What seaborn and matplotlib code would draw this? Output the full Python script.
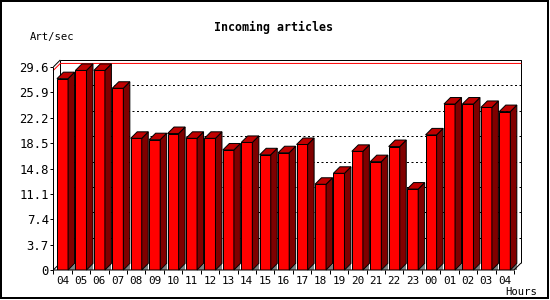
import matplotlib
matplotlib.use("Agg")
import matplotlib.pyplot as plt
import seaborn as sns
import pandas as pd
import numpy as np
from matplotlib.patches import Polygon, Rectangle

# ---- data ----
hours = ["04", "05", "06", "07", "08", "09", "10", "11", "12", "13", "14", "15", "16",
         "17", "18", "19", "20", "21", "22", "23", "00", "01", "02", "03", "04"]
values = [27.9, 29.1, 29.1, 26.5, 19.2, 19.0, 19.9, 19.2, 19.2, 17.5, 18.6, 16.8, 17.1,
          18.3, 12.5, 14.1, 17.3, 15.8, 18.0, 11.8, 19.7, 24.2, 24.2, 23.7, 23.1]
ytick_vals = [0, 3.7, 7.4, 11.1, 14.8, 18.5, 22.2, 25.9, 29.6]
ytick_labels = ["0", "3.7", "7.4", "11.1", "14.8", "18.5", "22.2", "25.9", "29.6"]
title = "Incoming articles"
ylabel = "Art/sec"
xlabel = "Hours"

sns.set_theme(style="white")
plt.rcParams["font.family"] = ["DejaVu Sans Mono", "DejaVu Sans"]

W, H = 550, 300
fig = plt.figure(figsize=(W / 100, H / 100), dpi=100)
fig.patch.set_facecolor("white")

# front plotting area in pixels
fx0, fx1 = 53.3, 514.0
fy0, fy1 = 270.0, 67.0
ax = fig.add_axes([fx0 / W, (H - fy0) / H, (fx1 - fx0) / W, (fy0 - fy1) / H])
ax.set_facecolor("none")

n = len(values)
df = pd.DataFrame({"idx": list(range(n)), "val": values})
sns.barplot(data=df, x="idx", y="val", color="#ff0000", saturation=1, width=0.6,
            edgecolor="black", linewidth=0.72, ax=ax, zorder=3)

xmin, xmax = -0.5, n - 0.5
ymin, ymax = 0, 29.6
ax.set_xlim(xmin, xmax)
ax.set_ylim(ymin, ymax)

ppx = (fx1 - fx0) / (xmax - xmin)
ppy = (fy0 - fy1) / (ymax - ymin)
pdx, pdy = 7 / ppx, 7 / ppy          # back-plane depth
bdx, bdy = 6.5 / ppx, 6.5 / ppy      # bar depth

for s in ax.spines.values():
    s.set_visible(False)

lw = 0.72
# back plane
ax.add_patch(Polygon([(xmin + pdx, pdy), (xmax + pdx, pdy), (xmax + pdx, ymax + pdy),
                      (xmin + pdx, ymax + pdy)], closed=True, facecolor="white",
                     edgecolor="none", zorder=0.2, clip_on=False))
line_kw = dict(color="black", lw=lw, clip_on=False, solid_capstyle="butt")
ax.plot([xmin + pdx, xmax + pdx, xmax + pdx], [ymax + pdy, ymax + pdy, pdy], zorder=0.4, **line_kw)
ax.plot([xmin + pdx, xmin + pdx], [pdy, ymax + pdy], zorder=0.4, **line_kw)
# gridlines on back plane
for v in ytick_vals[1:-1]:
    ax.plot([xmin + pdx, xmax + pdx], [v + pdy, v + pdy], color="black", lw=lw,
            ls=(0, (2, 2.5)), zorder=0.5, clip_on=False)
# max line (red)
vmax = max(values)
ax.plot([xmin, xmin + pdx, xmax + pdx], [vmax, vmax + pdy, vmax + pdy], color="#ff0000",
        lw=lw, zorder=0.6, clip_on=False)

# front axes / floor edges
ax.plot([xmin, xmin], [0, ymax], zorder=6, **line_kw)
ax.plot([xmin, xmin + pdx], [ymax, ymax + pdy], zorder=6, **line_kw)
ax.plot([xmin, xmin + pdx], [0, pdy], zorder=0.6, **line_kw)
ax.plot([xmin, xmax, xmax + pdx], [0, 0, pdy], zorder=6, **line_kw)

# 3D faces for every bar drawn by seaborn
for p in list(ax.patches):
    if not isinstance(p, Rectangle):
        continue
    x0, w, h = p.get_x(), p.get_width(), p.get_height()
    x1 = x0 + w
    ax.add_patch(Polygon([(x1, 0), (x1 + bdx, 0), (x1 + bdx, bdy)], closed=True,
                         facecolor="#808080", edgecolor="none", zorder=2.5, clip_on=False))
    ax.add_patch(Polygon([(x0, h), (x1, h), (x1 + bdx, h + bdy), (x0 + bdx, h + bdy)],
                         closed=True, facecolor="#c00000", edgecolor="black", lw=lw,
                         zorder=3.2, clip_on=False))
    ax.add_patch(Polygon([(x1, 0), (x1 + bdx, bdy), (x1 + bdx, h + bdy), (x1, h)],
                         closed=True, facecolor="#800000", edgecolor="black", lw=lw,
                         zorder=3.1, clip_on=False))

# ticks
ax.set_xticks(range(n))
ax.set_xticklabels(hours, fontsize=7.9)
ax.set_xticks(np.arange(n + 1) - 0.5, minor=True)
ax.tick_params(axis="x", which="major", length=0, pad=4.0, colors="black")
ax.tick_params(axis="x", which="minor", length=3, width=lw, color="black", direction="out",
               bottom=True)
ax.set_yticks(ytick_vals)
ax.set_yticklabels(ytick_labels, fontsize=8.8)
ax.tick_params(axis="y", which="major", length=2, width=lw, color="black", direction="out",
               left=True, pad=1.2, labelcolor="black")
ax.set_xlabel("")
ax.set_ylabel("")

# texts
fig.text(274 / W, 1 - 27 / H, title, ha="center", va="center", fontsize=8.4,
         fontweight="bold", color="black")
fig.text(30 / W, 1 - 37 / H, ylabel, ha="left", va="center", fontsize=7.6, color="black")
fig.text(505 / W, 1 - 292 / H, xlabel, ha="left", va="center", fontsize=7.6, color="black")

# outer border
fig.patches.append(Rectangle((1 / W, 2 / H), 546.5 / W, 297 / H, transform=fig.transFigure,
                             fill=False, edgecolor="black", lw=1.44, figure=fig))

fig.savefig("out.png", dpi=100, facecolor="white")
